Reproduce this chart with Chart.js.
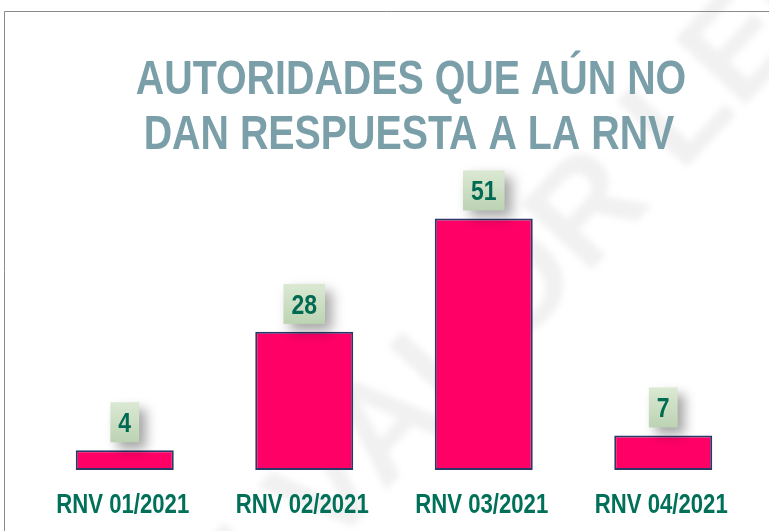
<!DOCTYPE html>
<html>
<head>
<meta charset="utf-8">
<script src="https://cdn.jsdelivr.net/npm/chart.js@4"></script>
<style>
  html, body { margin: 0; padding: 0; background: #fff; }
  #wrap { position: relative; width: 769px; height: 531px; }
</style>
</head>
<body>
<div id="wrap"><canvas id="chart" width="769" height="531"></canvas></div>
<script>
// Data
const categories = ['RNV 01/2021', 'RNV 02/2021', 'RNV 03/2021', 'RNV 04/2021'];
const pendingAuthorities = [4, 28, 51, 7];
const titleLines = ['AUTORIDADES QUE AÚN NO', 'DAN RESPUESTA A LA RNV'];
const watermarkText = 'SIN VALOR LEGAL';

const sans = '"Liberation Sans", Arial, sans-serif';
const squeeze = 0.82; // no narrow font installed, so squeeze horizontally

// draw text condensed like Arial Narrow
function narrowText(ctx, txt, x, y) {
  ctx.save();
  ctx.translate(x, y);
  ctx.scale(squeeze, 1);
  ctx.fillText(txt, 0, 0);
  ctx.restore();
}

// frame, watermark and title
const backdrop = {
  id: 'backdrop',
  beforeDatasetsDraw(chart) {
    const ctx = chart.ctx;
    ctx.save();
    // watermark
    ctx.font = 'bold 140px ' + sans;
    const before = ctx.measureText('SIN VAL').width;
    const oW = ctx.measureText('O').width;
    ctx.translate(520, 290);
    ctx.rotate(-47 * Math.PI / 180);
    ctx.filter = 'blur(3px)';
    ctx.fillStyle = 'rgba(120,120,120,0.10)';
    ctx.textBaseline = 'middle';
    ctx.textAlign = 'left';
    ctx.fillText(watermarkText, -(before + oW / 2), 0);
    ctx.restore();

    ctx.save();
    // frame lines
    ctx.strokeStyle = '#8a8a8a';
    ctx.lineWidth = 1;
    ctx.beginPath();
    ctx.moveTo(4.5, 531);
    ctx.lineTo(4.5, 11.5);
    ctx.lineTo(769, 11.5);
    ctx.stroke();
    // title
    ctx.fillStyle = '#7a9fa8';
    ctx.font = 'bold 48px ' + sans;
    ctx.textAlign = 'center';
    ctx.textBaseline = 'alphabetic';
    narrowText(ctx, titleLines[0], 411, 94);
    narrowText(ctx, titleLines[1], 409, 149);
    ctx.restore();
  }
};

// green value boxes above bars + category labels
const valueBoxes = {
  id: 'valueBoxes',
  afterDatasetsDraw(chart) {
    const ctx = chart.ctx;
    const meta = chart.getDatasetMeta(0);
    const xScale = chart.scales.x;
    ctx.save();
    ctx.font = 'bold 28px ' + sans;
    meta.data.forEach((bar, i) => {
      const txt = String(pendingAuthorities[i]);
      const w = ctx.measureText(txt).width * squeeze + 16;
      const h = 40;
      const bottom = bar.y - 8;
      const left = bar.x - w / 2;
      ctx.save();
      ctx.shadowColor = 'rgba(0,0,0,0.35)';
      ctx.shadowBlur = 12;
      ctx.shadowOffsetX = 7;
      ctx.shadowOffsetY = 7;
      const g = ctx.createLinearGradient(0, bottom - h, 0, bottom);
      g.addColorStop(0, '#dbe9d3');
      g.addColorStop(1, '#bcd3b3');
      ctx.fillStyle = g;
      ctx.fillRect(left, bottom - h, w, h);
      ctx.restore();
      ctx.fillStyle = '#006b52';
      ctx.textAlign = 'center';
      ctx.textBaseline = 'alphabetic';
      narrowText(ctx, txt, bar.x, bottom - h / 2 + 10);
    });

    // x labels
    ctx.font = 'bold 27px ' + sans;
    ctx.fillStyle = '#007058';
    ctx.textAlign = 'center';
    ctx.textBaseline = 'alphabetic';
    categories.forEach((c, i) => {
      narrowText(ctx, c, xScale.getPixelForTick(i) - 2, 513);
    });
    ctx.restore();
  }
};

const ctx = document.getElementById('chart').getContext('2d');
new Chart(ctx, {
  type: 'bar',
  data: {
    labels: categories,
    datasets: [{
      data: pendingAuthorities,
      backgroundColor: '#ff0066',
      borderColor: '#2c3868',
      borderWidth: 2,
      borderSkipped: false,
      categoryPercentage: 1,
      barPercentage: 0.546
    }]
  },
  options: {
    responsive: false,
    animation: false,
    layout: { padding: { top: 174, left: 35, right: 16, bottom: 0 } },
    plugins: {
      legend: { display: false },
      title: { display: false },
      tooltip: { enabled: false }
    },
    scales: {
      x: {
        grid: { display: false, drawTicks: false },
        border: { display: false },
        ticks: { display: false },
        afterFit: (scale) => { scale.height = 61; }
      },
      y: {
        display: false,
        min: 0,
        max: 60
      }
    }
  },
  plugins: [backdrop, valueBoxes]
});
</script>
</body>
</html>
